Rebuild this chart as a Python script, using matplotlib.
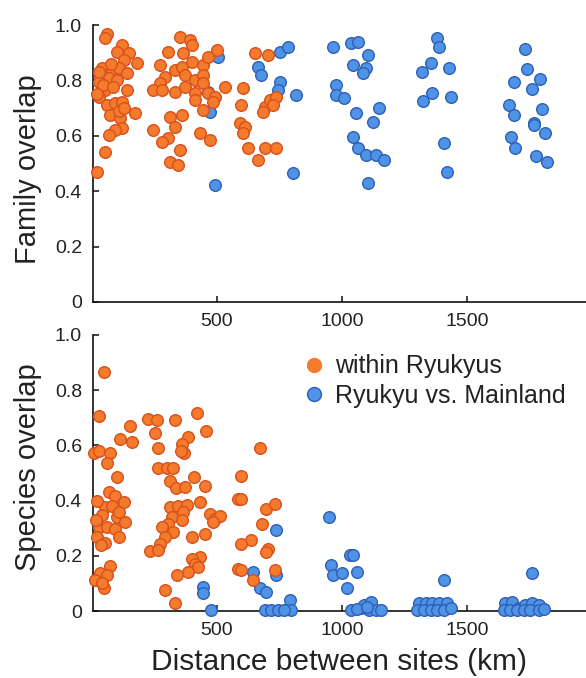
import numpy as np
import matplotlib
matplotlib.use("Agg")
import matplotlib.pyplot as plt
from matplotlib.lines import Line2D

plt.rcParams['font.family'] = ['Liberation Sans', 'DejaVu Sans']

# ---- data (distance km, overlap) ----
family_within = np.array([
    (61,0.966),(54,0.953),(120,0.928),(100,0.904),(147,0.898),(180,0.862),(127,0.874),(41,0.844),
    (80,0.838),(107,0.844),(140,0.826),(34,0.819),(67,0.808),(100,0.801),(27,0.795),(54,0.765),
    (140,0.765),(27,0.741),(61,0.711),(94,0.717),(120,0.723),(74,0.675),(114,0.663),(173,0.681),
    (120,0.627),(94,0.621),(67,0.603),(54,0.543),(21,0.470),(45,0.785),(85,0.775),(110,0.690),
    (130,0.700),(75,0.860),(20,0.750),(30,0.830),
    (306,0.904),(353,0.958),(392,0.946),(399,0.928),(366,0.898),(273,0.856),(333,0.838),(359,0.850),
    (399,0.868),(445,0.856),(465,0.886),(499,0.910),(293,0.813),(273,0.790),(246,0.765),(280,0.765),
    (333,0.759),(373,0.777),(373,0.819),(412,0.801),(445,0.819),(445,0.790),(412,0.753),(412,0.729),
    (465,0.753),(492,0.741),(532,0.777),(445,0.693),(485,0.723),(313,0.669),(359,0.675),(333,0.633),
    (246,0.621),(306,0.591),(280,0.579),(432,0.609),(472,0.585),(353,0.549),(313,0.506),(346,0.495),
    (651,0.898),(704,0.892),(605,0.771),(598,0.711),(691,0.705),(711,0.729),(738,0.741),(685,0.687),
    (724,0.711),(592,0.645),(612,0.633),(605,0.609),(625,0.555),(691,0.555),(738,0.555),(665,0.513),
])

family_mainland = np.array([
    (505,0.886),(465,0.759),(472,0.687),(492,0.422),
    (751,0.904),(784,0.922),(665,0.850),(678,0.819),(751,0.795),(744,0.765),(818,0.747),(804,0.467),
    (963,0.922),(1036,0.934),(1063,0.940),(1103,0.892),(1043,0.856),(1096,0.844),(1083,0.826),
    (977,0.783),(977,0.747),(1010,0.735),(1056,0.681),(1149,0.699),(1123,0.651),(1043,0.597),
    (1063,0.555),(1096,0.531),(1136,0.531),(1169,0.513),(1103,0.428),
    (1382,0.952),(1388,0.922),(1355,0.864),(1322,0.831),(1428,0.846),(1362,0.756),(1325,0.726),
    (1435,0.741),(1408,0.573),(1421,0.468),
    (1734,0.913),(1740,0.840),(1687,0.795),(1794,0.805),(1760,0.768),(1667,0.711),(1687,0.675),
    (1800,0.697),(1767,0.647),(1770,0.640),(1814,0.611),(1678,0.597),(1694,0.555),(1776,0.528),
    (1820,0.504),
])

species_within = np.array([
    (47,0.865),(27,0.706),(153,0.670),(160,0.613),(114,0.625),(7,0.574),(27,0.580),(74,0.572),
    (61,0.536),(100,0.484),(67,0.430),(94,0.418),(127,0.396),(54,0.376),(41,0.348),(100,0.340),
    (133,0.324),(27,0.304),(61,0.304),(94,0.298),(107,0.268),(21,0.268),(54,0.248),(74,0.163),
    (34,0.136),(61,0.130),(14,0.112),(47,0.082),(40,0.100),(80,0.380),(20,0.400),(110,0.360),
    (15,0.330),(35,0.240),
    (226,0.694),(260,0.692),(333,0.691),(419,0.716),(253,0.644),(456,0.651),(386,0.632),(359,0.604),
    (369,0.574),(355,0.580),(264,0.589),(264,0.518),(300,0.518),(326,0.518),(313,0.472),(337,0.444),
    (373,0.448),(410,0.484),(452,0.452),(313,0.376),(346,0.380),(379,0.385),(432,0.394),(320,0.340),
    (366,0.358),(306,0.316),(359,0.328),(280,0.304),(326,0.286),(293,0.268),(273,0.244),(233,0.217),
    (266,0.220),(402,0.268),(452,0.280),(472,0.352),(492,0.334),(512,0.346),(485,0.322),(432,0.196),
    (399,0.190),(412,0.172),(425,0.160),(386,0.142),(339,0.132),(293,0.076),(333,0.028),
    (674,0.592),(598,0.490),(585,0.406),(598,0.406),(698,0.370),(731,0.388),(680,0.314),(638,0.259),
    (598,0.241),(704,0.226),(698,0.214),(585,0.154),(598,0.150),(645,0.114),(731,0.148),
])

species_mainland = np.array([
    (445,0.088),(445,0.064),(476,0.004),
    (738,0.292),(645,0.142),(738,0.130),(671,0.082),(698,0.070),(791,0.040),(798,0.004),(691,0.004),
    (717,0.004),(744,0.004),(770,0.004),
    (947,0.340),(1033,0.202),(1046,0.202),(957,0.166),(963,0.130),(1001,0.136),(1059,0.142),
    (1019,0.082),(1037,0.004),(1076,0.010),(1090,0.022),(1116,0.034),(1110,0.004),(1136,0.004),
    (1156,0.004),(1060,0.008),(1100,0.014),
    (1408,0.112),(1760,0.136),
    (1309,0.028),(1335,0.028),(1362,0.028),(1388,0.028),(1421,0.028),(1302,0.004),(1329,0.004),
    (1355,0.004),(1382,0.004),(1408,0.004),(1435,0.012),
    (1654,0.028),(1680,0.034),(1707,0.010),(1734,0.020),(1760,0.028),(1787,0.020),(1647,0.004),
    (1674,0.004),(1700,0.004),(1727,0.004),(1754,0.004),(1787,0.004),(1807,0.008),
])

x_ticks = [500, 1000, 1500]
y_ticks = [0, 0.2, 0.4, 0.6, 0.8, 1.0]
y_ticklabels = ["0", "0.2", "0.4", "0.6", "0.8", "1.0"]
legend_labels = ["within Ryukyus", "Ryukyu vs. Mainland"]

ORANGE_FC, ORANGE_EC = "#F47A2C", "#D8501C"
BLUE_FC, BLUE_EC = "#4F93E6", "#2E5FB5"

fig = plt.figure(figsize=(5.86, 6.78), dpi=100)
ax_top = fig.add_axes([0.1587, 0.5546, 0.8413, 0.4085])
ax_bot = fig.add_axes([0.1587, 0.0988, 0.8413, 0.4071])

def style(ax, ylabel, ylab_y):
    ax.set_xlim(4, 1976)
    ax.set_ylim(0, 1.0)
    for s in ["top", "right"]:
        ax.spines[s].set_visible(False)
    for s in ["left", "bottom"]:
        ax.spines[s].set_linewidth(1.2)
        ax.spines[s].set_color("#111111")
    ax.set_xticks(x_ticks)
    ax.set_xticklabels([str(t) for t in x_ticks])
    ax.set_yticks(y_ticks)
    ax.set_yticklabels(y_ticklabels)
    ax.tick_params(axis="both", direction="in", length=4, width=1.1,
                   labelsize=14, colors="#111111", labelcolor="#222222")
    ax.tick_params(axis="y", pad=8)
    ax.tick_params(axis="x", pad=8)
    ax.set_ylabel(ylabel, fontsize=21, color="#222222", va="center")
    ax.yaxis.set_label_coords(-0.132, ylab_y)

ms = 70
for ax, within, main, ylabel, ly in [
    (ax_top, family_within, family_mainland, "Family overlap", 0.48),
    (ax_bot, species_within, species_mainland, "Species overlap", 0.52),
]:
    ax.scatter(main[:, 0], main[:, 1], s=ms, facecolor=BLUE_FC, edgecolor=BLUE_EC,
               linewidth=1.0, clip_on=False, zorder=3)
    ax.scatter(within[:, 0], within[:, 1], s=ms, facecolor=ORANGE_FC, edgecolor=ORANGE_EC,
               linewidth=1.0, clip_on=False, zorder=4)
    style(ax, ylabel, ly)

ax_bot.set_xlabel("Distance between sites (km)", fontsize=21.5, color="#222222")
ax_bot.xaxis.set_label_coords(0.5, -0.135)

handles = [
    Line2D([], [], marker="o", linestyle="none", markersize=10,
           markerfacecolor=ORANGE_FC, markeredgecolor=ORANGE_FC),
    Line2D([], [], marker="o", linestyle="none", markersize=10,
           markerfacecolor=BLUE_FC, markeredgecolor=BLUE_EC),
]
ax_bot.legend(handles, legend_labels, loc="upper left", bbox_to_anchor=(0.4226, 0.93),
              frameon=False, fontsize=18, handlelength=1.0, handletextpad=0.35,
              labelspacing=0.22, borderpad=0, borderaxespad=0, labelcolor="#222222")

fig.savefig("out.png", dpi=100)
